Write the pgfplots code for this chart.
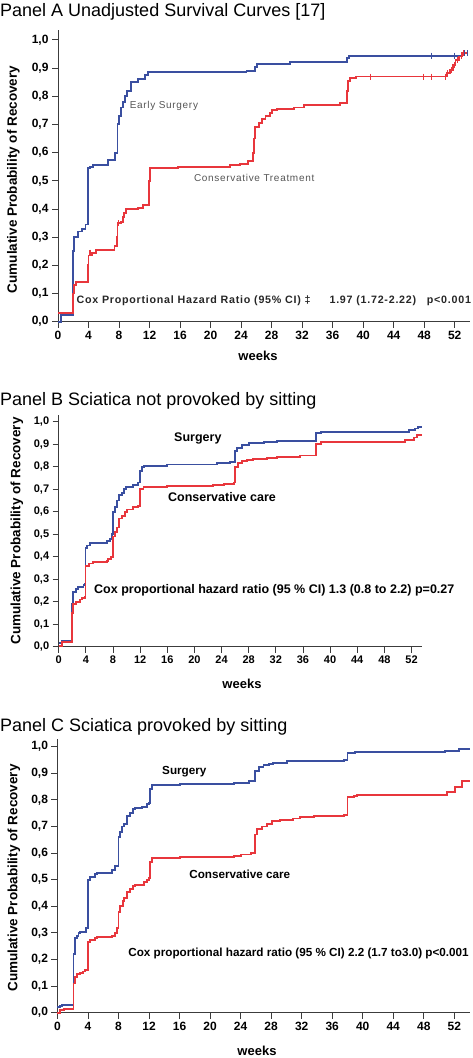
\documentclass[border=0pt]{standalone}
\usepackage{fontspec}
\setmainfont{Liberation Sans}
\newfontfamily\spacedfont[LetterSpace=7]{Liberation Sans}
\usepackage{pgfplots}
\pgfplotsset{compat=1.18}
\definecolor{kmblue}{HTML}{3A4FA0}
\definecolor{kmred}{HTML}{E8363C}
\definecolor{axgray}{HTML}{3C3C3C}
\definecolor{lblgray}{HTML}{555555}
\pgfplotsset{
  kmaxis/.style={
    scale only axis, axis lines=left,
    axis line style={-, axgray, line width=1pt},
    xmin=0, ymin=0,
    xtick={0,4,8,12,16,20,24,28,32,36,40,44,48,52},
    ytick={0,0.1,0.2,0.3,0.4,0.5,0.6,0.7,0.8,0.9,1},
    tick align=outside, major tick length=6pt,
    tick style={axgray, line width=0.9pt},
    /pgf/number format/assume math mode=true,
    yticklabel style={/pgf/number format/.cd, fixed, fixed zerofill, precision=1, use comma},
    clip=false,
  },
  kmline/.style={const plot, line width=1.9pt, no marks},
  censor/.style={only marks, mark=|, mark size=3pt, mark options={line width=1.1pt}},
}
\begin{document}
\begin{tikzpicture}
\path[use as bounding box] (0pt,0pt) rectangle (472pt,-1058pt);

% ---------------- Panel A ----------------
\begin{axis}[kmaxis, at={(58pt,-321.7pt)}, anchor=south west,
  width=412pt, height=291.7pt, xmax=54, ymax=1.035,
  ticklabel style={font=\bfseries\fontsize{12}{14}\selectfont}]
\addplot[kmline, kmblue] coordinates {
(0,0) (0.4,0.024) (2.0,0.25) (2.1,0.30) (2.6,0.32) (3.2,0.33) (3.6,0.345)
(3.9,0.545) (4.2,0.55) (4.6,0.555) (6.6,0.575) (7.5,0.60) (7.8,0.70) (8.0,0.73)
(8.2,0.76) (8.5,0.78) (8.8,0.80) (9.1,0.82) (9.6,0.85) (10.5,0.86) (11.4,0.875)
(11.8,0.885) (24.7,0.89) (25.8,0.905) (26.1,0.915) (30.4,0.92) (37.9,0.935)
(38.1,0.944) (53.0,0.953) (53.7,0.953)};
\addplot[kmline, kmred] coordinates {
(0,0.03) (2.0,0.10) (2.1,0.13) (2.4,0.14) (3.9,0.20) (4.0,0.235) (4.4,0.245)
(5.0,0.255) (7.4,0.27) (7.7,0.30) (7.8,0.35) (8.2,0.355) (8.5,0.37) (8.6,0.385)
(8.9,0.40) (10.5,0.405) (11.1,0.415) (11.9,0.50) (12.1,0.545) (15.7,0.55)
(22.5,0.555) (23.9,0.56) (24.9,0.57) (25.6,0.60) (25.7,0.65) (25.85,0.69)
(26.3,0.705) (26.7,0.72) (27.2,0.73) (27.8,0.74) (28.0,0.75) (28.7,0.755)
(30.9,0.76) (32.2,0.77) (37.0,0.775) (37.9,0.82) (38.0,0.855) (38.3,0.864)
(39.0,0.87) (51.0,0.882) (51.4,0.893) (51.8,0.911) (52.1,0.927) (52.6,0.941)
(53.0,0.953) (53.7,0.953)};
\addplot[censor, kmblue] coordinates {(49.0,0.944) (52.0,0.944) (53.3,0.953) (53.7,0.953)};
\addplot[censor, kmred] coordinates {(4.2,0.245) (7.9,0.35) (40.9,0.87) (47.9,0.87) (48.9,0.87)
(50.8,0.87) (51.1,0.882) (51.6,0.893) (52.0,0.911) (52.4,0.927) (52.9,0.941) (53.2,0.953)};
\node[anchor=base west, inner sep=0, text=lblgray, font=\spacedfont\fontsize{10}{12}\selectfont]
  at (axis cs:9.38,0.755) {Early Surgery};
\node[anchor=base west, inner sep=0, text=lblgray, font=\spacedfont\fontsize{10}{12}\selectfont]
  at (axis cs:17.8,0.497) {Conservative Treatment};
\node[anchor=base west, inner sep=0, text=black!85, font=\spacedfont\bfseries\fontsize{10.7}{12}\selectfont]
  at (axis cs:2.41,0.065) {Cox Proportional Hazard Ratio (95\% CI) ‡};
\node[anchor=base west, inner sep=0, text=black!85, font=\spacedfont\bfseries\fontsize{10.7}{12}\selectfont]
  at (axis cs:35.57,0.065) {1.97 (1.72-2.22)};
\node[anchor=base west, inner sep=0, text=black!85, font=\spacedfont\bfseries\fontsize{10.7}{12}\selectfont]
  at (axis cs:48.33,0.065) {p<0.001};
\end{axis}

% ---------------- Panel B ----------------
\begin{axis}[kmaxis, at={(58.7pt,-646.7pt)}, anchor=south west,
  width=363pt, height=231.7pt, xmax=53.5, ymax=1.03,
  ticklabel style={font=\bfseries\fontsize{11}{13}\selectfont}]
\addplot[kmline, kmblue] coordinates {
(0,0.015) (0.45,0.025) (1.95,0.19) (2.1,0.245) (2.55,0.255) (2.9,0.265)
(3.65,0.275) (3.9,0.28) (3.95,0.44) (4.2,0.45) (4.6,0.46) (7.1,0.47) (7.6,0.48)
(7.8,0.50) (7.95,0.60) (8.3,0.62) (8.55,0.65) (8.95,0.675) (9.3,0.685)
(9.65,0.70) (9.95,0.71) (11.0,0.72) (11.75,0.73) (12.0,0.78) (12.25,0.80)
(12.6,0.805) (15.9,0.81) (23.3,0.815) (25.3,0.82) (26.0,0.87) (26.25,0.885)
(27.0,0.895) (28.0,0.905) (30.2,0.91) (32.2,0.915) (37.9,0.95) (38.6,0.955)
(51.6,0.965) (52.5,0.97) (53.0,0.975) (53.6,0.975)};
\addplot[kmline, kmred] coordinates {
(0,0.005) (0.45,0.02) (1.95,0.15) (2.1,0.19) (2.55,0.20) (3.15,0.21) (3.4,0.215)
(3.9,0.22) (3.95,0.36) (4.5,0.37) (5.1,0.375) (7.1,0.38) (7.3,0.39) (7.7,0.40)
(7.95,0.49) (8.3,0.51) (8.55,0.53) (8.95,0.57) (9.3,0.58) (9.8,0.60) (10.0,0.61)
(11.0,0.62) (11.75,0.625) (12.0,0.70) (12.5,0.71) (15.9,0.715) (22.8,0.72)
(24.3,0.725) (25.8,0.73) (26.0,0.80) (26.4,0.815) (27.0,0.825) (27.7,0.83)
(28.7,0.835) (30.7,0.84) (32.2,0.845) (35.6,0.85) (37.9,0.90) (38.6,0.91)
(51.1,0.92) (52.3,0.93) (52.8,0.94) (53.6,0.94)};
\node[anchor=base west, inner sep=0, font=\bfseries\fontsize{12.5}{14}\selectfont]
  at (axis cs:17.0,0.914) {Surgery};
\node[anchor=base west, inner sep=0, font=\bfseries\fontsize{12.5}{14}\selectfont]
  at (axis cs:16.1,0.644) {Conservative care};
\node[anchor=base west, inner sep=0, font=\bfseries\fontsize{12.5}{14}\selectfont]
  at (axis cs:5.2,0.237) {Cox proportional hazard ratio (95 \% CI) 1.3 (0.8 to 2.2) p=0.27};
\end{axis}

% ---------------- Panel C ----------------
\begin{axis}[kmaxis, at={(57.5pt,-1012.7pt)}, anchor=south west,
  width=412.5pt, height=273.7pt, xmax=54.06, ymax=1.029,
  ticklabel style={font=\bfseries\fontsize{12}{14}\selectfont}]
\addplot[kmline, kmblue] coordinates {
(0,0.02) (0.35,0.025) (0.55,0.03) (2.1,0.22) (2.3,0.28) (2.5,0.29) (2.75,0.30)
(2.95,0.305) (3.75,0.32) (4.05,0.50) (4.3,0.51) (4.95,0.52) (5.2,0.525)
(7.1,0.535) (7.55,0.55) (8.0,0.66) (8.2,0.68) (8.45,0.70) (8.75,0.71) (9.1,0.74)
(9.5,0.75) (9.95,0.765) (10.2,0.77) (11.1,0.775) (11.7,0.785) (11.95,0.79)
(12.15,0.84) (12.4,0.855) (16.1,0.86) (23.1,0.865) (25.1,0.87) (25.9,0.91)
(26.4,0.925) (27.0,0.93) (27.7,0.935) (28.3,0.94) (30.1,0.945) (31.8,0.948)
(37.5,0.95) (38.0,0.975) (39.0,0.98) (50.8,0.985) (52.6,0.99) (54.0,0.99)};
\addplot[kmline, kmred] coordinates {
(0,0.0) (0.35,0.01) (0.8,0.015) (2.1,0.11) (2.3,0.135) (2.55,0.145) (2.95,0.15)
(3.4,0.155) (3.6,0.16) (4.05,0.265) (4.3,0.275) (4.95,0.28) (5.2,0.285)
(7.1,0.29) (7.55,0.30) (7.8,0.32) (8.0,0.38) (8.2,0.40) (8.55,0.42) (8.75,0.43)
(9.1,0.455) (9.5,0.465) (9.95,0.475) (10.2,0.48) (11.3,0.49) (11.7,0.50)
(12.0,0.505) (12.15,0.565) (12.4,0.58) (16.1,0.585) (23.1,0.59) (24.0,0.595)
(25.3,0.60) (25.9,0.67) (26.15,0.69) (26.8,0.70) (27.4,0.71) (28.1,0.72)
(29.2,0.725) (30.9,0.73) (31.8,0.735) (33.6,0.74) (37.5,0.745) (38.0,0.81)
(38.8,0.815) (39.2,0.82) (51.1,0.83) (52.1,0.85) (53.0,0.87) (54.0,0.87)};
\node[anchor=base west, inner sep=0, font=\bfseries\fontsize{11.7}{14}\selectfont]
  at (axis cs:13.7,0.894) {Surgery};
\node[anchor=base west, inner sep=0, font=\bfseries\fontsize{11.7}{14}\selectfont]
  at (axis cs:17.25,0.505) {Conservative care};
\node[anchor=base west, inner sep=0, font=\bfseries\fontsize{11.7}{14}\selectfont]
  at (axis cs:9.26,0.2105) {Cox proportional hazard ratio (95 \% CI) 2.2 (1.7 to3.0) p<0.001};
\end{axis}

% ---------------- titles and axis labels ----------------
\node[anchor=base west, inner sep=0, font=\fontsize{18}{20}\selectfont] at (0pt,-16.5pt) {Panel A Unadjusted Survival Curves [17]};
\node[anchor=base west, inner sep=0, font=\fontsize{18}{20}\selectfont] at (0pt,-405pt) {Panel B Sciatica not provoked by sitting};
\node[anchor=base west, inner sep=0, font=\fontsize{18}{20}\selectfont] at (0pt,-731.7pt) {Panel C Sciatica provoked by sitting};

\node[rotate=90, inner sep=0, font=\bfseries\fontsize{13.5}{15}\selectfont] at (13.3pt,-179.5pt) {Cumulative Probability of Recovery};
\node[rotate=90, inner sep=0, font=\bfseries\fontsize{13.5}{15}\selectfont] at (17pt,-531pt) {Cumulative Probability of Recovery};
\node[rotate=90, inner sep=0, font=\bfseries\fontsize{13.5}{15}\selectfont] at (14pt,-878pt) {Cumulative Probability of Recovery};

\node[anchor=base, inner sep=0, font=\bfseries\fontsize{13}{15}\selectfont] at (258pt,-360.7pt) {weeks};
\node[anchor=base, inner sep=0, font=\bfseries\fontsize{13}{15}\selectfont] at (242pt,-688pt) {weeks};
\node[anchor=base, inner sep=0, font=\bfseries\fontsize{13}{15}\selectfont] at (257pt,-1055pt) {weeks};
\end{tikzpicture}
\end{document}
